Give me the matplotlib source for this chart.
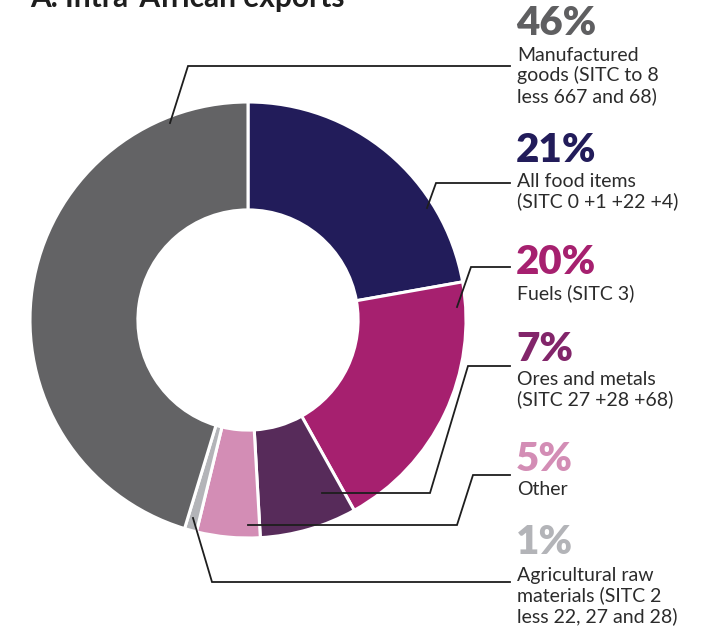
import matplotlib.pyplot as plt
import numpy as np

categories = ["All food items", "Fuels", "Ores and metals", "Other",
              "Agricultural raw materials", "Manufactured goods"]
shares = [22.2, 19.7, 7.2, 4.7, 0.9, 45.3]
pct_labels = ["21%", "20%", "7%", "5%", "1%", "46%"]
slice_colors = ["#221c5a", "#a6206f", "#572b5a", "#d38db5", "#b3b4b8", "#636365"]
pct_colors = ["#221c5a", "#a6206f", "#82256a", "#d38db5", "#b3b4b8", "#5f5f61"]
descriptions = [["All food items", "(SITC 0 +1 +22 +4)"],
                ["Fuels (SITC 3)"],
                ["Ores and metals", "(SITC 27 +28 +68)"],
                ["Other"],
                ["Agricultural raw", "materials (SITC 2", "less 22, 27 and 28)"],
                ["Manufactured", "goods (SITC to 8", "less 667 and 68)"]]

W, H = 711, 628
fig = plt.figure(figsize=(W / 100, H / 100), dpi=100)

# donut: centre (248, 320) px, radius 218 px
cx, cy, r = 248, 320, 218
ax = fig.add_axes([(cx - r) / W, (H - cy - r) / H, 2 * r / W, 2 * r / H])
wedges, _ = ax.pie(shares, colors=slice_colors, startangle=90, counterclock=False,
                   radius=1, wedgeprops=dict(width=0.495, edgecolor="white", linewidth=2.2))
ax.set_xlim(-1, 1); ax.set_ylim(-1, 1)
ax.set_aspect("equal")
ax.axis("off")

# overlay in pixel coords for labels and leader lines
ov = fig.add_axes([0, 0, 1, 1], zorder=5)
ov.set_xlim(0, W); ov.set_ylim(H, 0)
ov.axis("off")
ov.patch.set_alpha(0)

font = "Lato"
ov.text(30, 7, "A. Intra-African exports", fontsize=21.5, fontweight="bold",
        family=font, color="#1e1e1e", va="baseline", ha="left")

# label layout: (percent baseline, first body baseline)
label_y = [(162, 187), (274, 299), (361, 385), (471, 495), (554, 581), (35, 61)]
line_gap = 20.5
tx = 517
for i in range(len(categories)):
    py, by = label_y[i]
    ov.text(tx - 1, py, pct_labels[i], fontsize=29, fontweight="heavy", family=font,
            color=pct_colors[i], va="baseline", ha="left")
    for k, line in enumerate(descriptions[i]):
        ov.text(tx, by + k * line_gap, line, fontsize=14, family=font,
                color="#2b2b2b", va="baseline", ha="left")

# leader lines (px)
leaders = [
    [(510, 183), (436, 183), (427, 208)],
    [(510, 267), (471, 267), (457, 307)],
    [(510, 366), (468, 366), (430, 493), (322, 493)],
    [(510, 475), (473, 475), (457, 525), (248, 525)],
    [(510, 582), (212, 582), (193, 518)],
    [(510, 66), (188, 66), (170, 123)],
]
for pts in leaders:
    xs, ys = zip(*pts)
    ov.plot(xs, ys, color="#1e1e1e", lw=1.3, solid_joinstyle="miter")

plt.savefig("out.png", dpi=100)
